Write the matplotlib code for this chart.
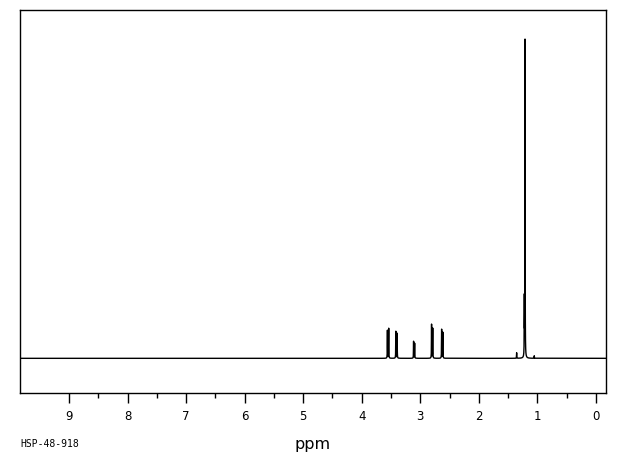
import matplotlib
matplotlib.use("Agg")
import matplotlib.pyplot as plt
import numpy as np

# peak list (ppm, height in plot units)
peak_ppm = [3.562, 3.540, 3.418, 3.396, 3.115, 3.097, 2.808, 2.788, 2.636, 2.616,
            1.355, 1.224, 1.212, 1.054]
peak_height = [28, 30, 27, 25, 17, 15, 34, 30, 29, 26,
               5.5, 56, 318, 2.5]
tick_ppm = [9, 8, 7, 6, 5, 4, 3, 2, 1, 0]
minor_ppm = [8.5, 7.5, 6.5, 5.5, 4.5, 3.5, 2.5, 1.5, 0.5]

# Lorentzian line shapes
hwhm = 0.002
x = np.linspace(-0.2, 9.9, 50000)
y = np.zeros_like(x)
for p, h in zip(peak_ppm, peak_height):
    y += h * hwhm**2 / ((x - p)**2 + hwhm**2)

fig = plt.figure(figsize=(6.2, 4.55), dpi=100)
ax = fig.add_axes([20/620, 62/455, 586/620, 383/455])
ax.plot(x, y, color="black", lw=1.0)
ax.set_xlim(9.837, -0.171)
ax.set_ylim(-34.7, 348.6)

for s in ax.spines.values():
    s.set_linewidth(1.0)
ax.set_yticks([])
ax.set_xticks(tick_ppm)
ax.set_xticks(minor_ppm, minor=True)
ax.set_xticklabels([str(t) for t in tick_ppm])
ax.tick_params(axis="x", which="major", direction="out", length=7.2, width=1,
               pad=5, labelsize=8.5)
ax.tick_params(axis="x", which="minor", direction="out", length=3.6, width=1)

fig.text(312.5/620, 1 - 449/455, "ppm", ha="center", va="baseline",
         fontsize=11.5, color="black")
fig.text(20/620, 1 - 444/455, "HSP-48-918", ha="left", va="center",
         fontsize=7, family="DejaVu Sans Mono")

fig.savefig("out.png", dpi=100)
